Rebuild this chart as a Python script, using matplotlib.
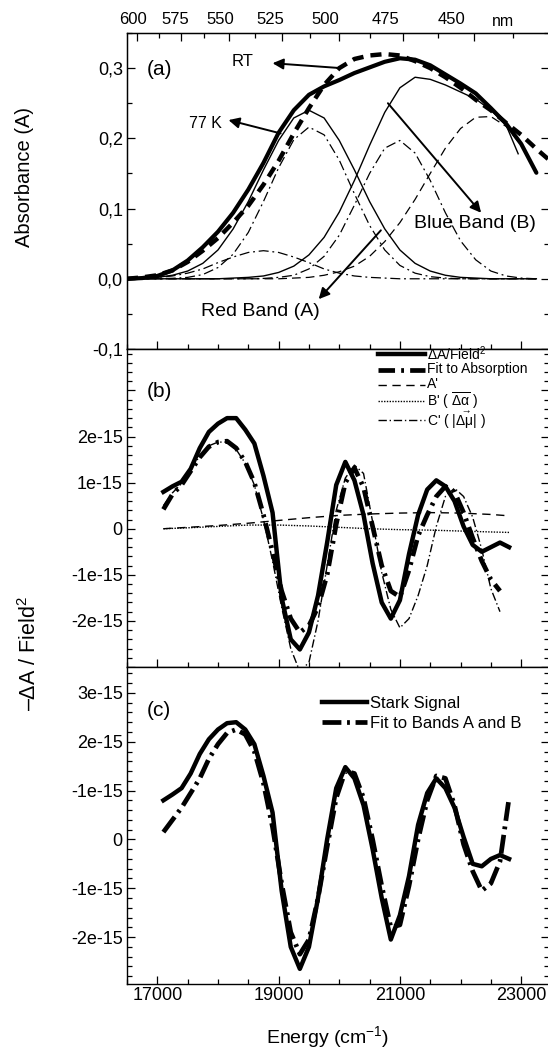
import matplotlib
matplotlib.use('Agg')
import matplotlib.pyplot as plt
from matplotlib.ticker import FixedLocator, MultipleLocator, NullFormatter, FixedFormatter

plt.rcParams['font.family'] = ['Liberation Sans', 'DejaVu Sans']
plt.rcParams['mathtext.fontset'] = 'custom'
plt.rcParams['mathtext.rm'] = 'Liberation Sans'
plt.rcParams['mathtext.it'] = 'Liberation Sans:italic'
plt.rcParams['mathtext.sf'] = 'Liberation Sans'

# ---------------- data: panel (a) absorbance ----------------
energy_a = [16500, 16750, 17000, 17250, 17500, 17750, 18000, 18250, 18500, 18750,
            19000, 19250, 19500, 19750, 20000, 20250, 20500, 20750, 21000, 21250,
            21500, 21750, 22000, 22250, 22500, 22750, 23000, 23250]
abs_77k = [0.000, 0.001, 0.004, 0.012, 0.026, 0.045, 0.067, 0.094, 0.127, 0.165,
           0.208, 0.240, 0.262, 0.274, 0.283, 0.293, 0.301, 0.309, 0.314, 0.312,
           0.304, 0.291, 0.278, 0.264, 0.243, 0.221, 0.192, 0.151]
energy_rt = energy_a + [23450]
abs_rt = [0.000, 0.002, 0.005, 0.012, 0.024, 0.040, 0.058, 0.080, 0.104, 0.134,
          0.168, 0.207, 0.243, 0.276, 0.300, 0.313, 0.318, 0.320, 0.318, 0.310,
          0.300, 0.287, 0.272, 0.255, 0.240, 0.222, 0.205, 0.185, 0.170]
red_band = [0.000, 0.001, 0.002, 0.005, 0.011, 0.022, 0.041, 0.071, 0.110, 0.155,
            0.197, 0.229, 0.240, 0.229, 0.197, 0.155, 0.110, 0.071, 0.041, 0.022,
            0.011, 0.005, 0.002, 0.001, 0.000, 0.000, 0.000, 0.000]
blue_energy = [16500, 18000, 18250, 18500, 18750, 19000, 19250, 19500, 19750, 20000,
               20250, 20500, 20750, 21000, 21250, 21500, 21750, 22000, 22250, 22500,
               22750, 22950]
blue_band = [0.000, 0.000, 0.001, 0.002, 0.004, 0.009, 0.018, 0.034, 0.059, 0.095,
             0.140, 0.190, 0.237, 0.272, 0.287, 0.284, 0.276, 0.266, 0.256, 0.240,
             0.219, 0.178]
rt_red_band = [0.000, 0.000, 0.0002, 0.0007, 0.002, 0.006, 0.016, 0.035, 0.066, 0.110,
               0.158, 0.198, 0.216, 0.205, 0.169, 0.121, 0.076, 0.041, 0.019, 0.008,
               0.003, 0.001, 0.000, 0.000, 0.000, 0.000, 0.000, 0.000]
rt_mid_band = [0.000, 0.000, 0.000, 0.000, 0.000, 0.000, 0.000, 0.000, 0.000, 0.0005,
               0.002, 0.005, 0.014, 0.032, 0.062, 0.105, 0.150, 0.186, 0.197, 0.179,
               0.140, 0.094, 0.054, 0.027, 0.011, 0.004, 0.001, 0.000]
small_band = [0.0002, 0.001, 0.002, 0.004, 0.008, 0.014, 0.023, 0.031, 0.0375, 0.040,
              0.0375, 0.031, 0.023, 0.014, 0.008, 0.004, 0.002, 0.001, 0.000, 0.000,
              0.000, 0.000, 0.000, 0.000, 0.000, 0.000, 0.000, 0.000]
dash_energy = [16500, 18500, 18750, 19000, 19250, 19500, 19750, 20000, 20250, 20500,
               20750, 21000, 21250, 21500, 21750, 22000, 22250, 22500, 22750, 23000,
               23100]
rt_blue_band = [0.000, 0.000, 0.000, 0.000, 0.001, 0.002, 0.005, 0.010, 0.018, 0.032,
                0.053, 0.080, 0.113, 0.150, 0.186, 0.214, 0.230, 0.231, 0.217, 0.190,
                0.176]

# ---------------- data: panel (b) and (c), values in units of 1e-15 ----------------
energy_b = [17100, 17250, 17400, 17550, 17700, 17850, 18000, 18150, 18300, 18450,
            18600, 18750, 18900, 19050, 19200, 19350, 19500, 19650, 19800, 19950,
            20100, 20250, 20400, 20550, 20700, 20850, 21000, 21150, 21300, 21450,
            21600, 21750, 21900, 22050, 22200, 22350, 22500, 22650, 22800]
dA_field = [0.80, 0.92, 1.02, 1.30, 1.75, 2.10, 2.28, 2.40, 2.40, 2.15,
            1.85, 1.15, 0.35, -1.50, -2.40, -2.62, -2.25, -1.45, -0.30, 0.95,
            1.45, 1.05, 0.30, -0.75, -1.60, -1.95, -1.55, -0.55, 0.30, 0.85,
            1.05, 0.92, 0.60, 0.05, -0.35, -0.50, -0.40, -0.30, -0.40]
fit_absorption = [0.42, 0.75, 0.95, 1.25, 1.55, 1.78, 1.88, 1.90, 1.75, 1.45,
                  1.00, 0.30, -0.50, -1.35, -1.95, -2.25, -2.10, -1.70, -1.00, 0.10,
                  1.00, 1.32, 0.90, 0.05, -0.80, -1.35, -1.48, -0.90, -0.15, 0.30,
                  0.70, 0.92, 0.80, 0.35, -0.20, -0.70, -1.10, -1.35]
c_prime = [0.50, 0.78, 0.98, 1.28, 1.58, 1.80, 1.88, 1.88, 1.72, 1.42,
           0.95, 0.20, -0.70, -1.70, -2.60, -3.10, -2.90, -2.00, -0.80, 0.40,
           1.10, 1.38, 1.20, 0.15, -0.95, -1.75, -2.15, -1.95, -1.45, -0.80,
           0.05, 0.70, 0.88, 0.70, 0.25, -0.45, -1.30, -1.80]
energy_ab = [17100, 17500, 18000, 18500, 19000, 19500, 20000, 20500, 21000, 21500,
             22000, 22500, 22800]
a_prime = [0.00, 0.03, 0.07, 0.12, 0.18, 0.24, 0.29, 0.32, 0.34, 0.35, 0.34, 0.31, 0.28]
b_prime = [0.00, 0.02, 0.05, 0.08, 0.08, 0.06, 0.03, 0.00, -0.02, -0.03, -0.05, -0.07, -0.08]

stark_signal = [0.80, 0.92, 1.05, 1.35, 1.75, 2.05, 2.25, 2.38, 2.40, 2.25,
                1.95, 1.30, 0.55, -1.05, -2.20, -2.65, -2.20, -1.20, 0.00, 1.05,
                1.48, 1.25, 0.70, -0.20, -1.20, -2.05, -1.55, -0.75, 0.30, 0.95,
                1.25, 1.05, 0.65, 0.05, -0.50, -0.55, -0.40, -0.32, -0.40]
fit_bands = [0.15, 0.40, 0.65, 0.95, 1.25, 1.65, 1.95, 2.18, 2.25, 2.15,
             1.80, 1.15, 0.25, -0.90, -1.90, -2.35, -2.05, -1.20, -0.15, 0.85,
             1.40, 1.35, 0.85, 0.00, -0.95, -1.80, -1.75, -0.95, 0.00, 0.80,
             1.30, 1.25, 0.70, -0.10, -0.65, -1.05, -0.90, -0.45, 0.85]

# tick labels
x_ticks = [17000, 19000, 21000, 23000]
x_ticklabels = ['17000', '19000', '21000', '23000']
ya_ticks = [-0.1, 0.0, 0.1, 0.2, 0.3]
ya_ticklabels = ['-0,1', '0,0', '0,1', '0,2', '0,3']
yb_ticks = [-3, -2, -1, 0, 1, 2, 3]
yb_ticklabels = ['', '-2e-15', '-1e-15', '0', '1e-15', '2e-15', '']
yc_ticks = [-2, -1, 0, 1, 2, 3]
yc_ticklabels = ['-2e-15', '-1e-15', '0', '-1e-15', '2e-15', '3e-15']
nm_major = [600, 575, 550, 525, 500, 475, 450]
nm_minor = [587.5, 562.5, 537.5, 512.5, 487.5, 462.5, 437.5]

# ---------------- figure ----------------
W, H = 548, 1049
fig = plt.figure(figsize=(W / 100, H / 100), dpi=100)
LEFT, RIGHT = 127, 548.5


def rect(top, bottom):
    return [LEFT / W, 1 - bottom / H, (RIGHT - LEFT) / W, (bottom - top) / H]


axa = fig.add_axes(rect(33, 349))
axb = fig.add_axes(rect(349, 667))
axc = fig.add_axes(rect(667, 984))

for ax in (axa, axb, axc):
    ax.set_xlim(16500, 23450)
    ax.xaxis.set_major_locator(FixedLocator(x_ticks))
    ax.xaxis.set_minor_locator(MultipleLocator(500))
    ax.tick_params(which='both', direction='in', top=False, right=True,
                   labelsize=13, width=0.9, pad=3)
    ax.tick_params(which='major', length=6)
    ax.tick_params(which='minor', length=3.5)
    for s in ax.spines.values():
        s.set_linewidth(1.0)

axa.xaxis.set_major_formatter(NullFormatter())
axb.xaxis.set_major_formatter(NullFormatter())
axc.xaxis.set_major_formatter(FixedFormatter(x_ticklabels))
axc.tick_params(axis='x', pad=2)

# panel (a)
axa.set_ylim(-0.1, 0.35)
axa.yaxis.set_major_locator(FixedLocator(ya_ticks))
axa.yaxis.set_major_formatter(FixedFormatter(ya_ticklabels))
axa.yaxis.set_minor_locator(MultipleLocator(0.05))

dashdot_thin = (0, (8, 3, 1.5, 3))
axa.plot(energy_a, small_band, color='black', lw=0.9, ls=dashdot_thin)
axa.plot(energy_a, rt_red_band, color='black', lw=0.9, ls=dashdot_thin)
axa.plot(energy_a, rt_mid_band, color='black', lw=0.9, ls=dashdot_thin)
axa.plot(dash_energy, rt_blue_band, color='black', lw=0.9, ls=(0, (7, 4)))
axa.plot(energy_a, red_band, color='black', lw=1.0)
axa.plot(blue_energy, blue_band, color='black', lw=1.0)
axa.plot(energy_rt, abs_rt, color='black', lw=3.2, ls=(0, (2.5, 1.6)))
axa.plot(energy_a, abs_77k, color='black', lw=3.0, solid_capstyle='round',
         solid_joinstyle='round')

arrow = dict(arrowstyle='-|>', color='black', lw=1.4, mutation_scale=16,
             shrinkA=0, shrinkB=0)
axa.annotate('', xy=(18900, 0.307), xytext=(20025, 0.300), arrowprops=arrow)
axa.text(18400, 0.309, 'RT', fontsize=12, ha='center', va='center')
axa.annotate('', xy=(18174, 0.226), xytext=(19033, 0.207), arrowprops=arrow)
axa.text(17800, 0.221, '77 K', fontsize=11.5, ha='center', va='center')
axa.annotate('', xy=(22339, 0.094), xytext=(20802, 0.250), arrowprops=arrow)
axa.text(22230, 0.079, 'Blue Band (B)', fontsize=14, ha='center', va='center')
axa.annotate('', xy=(19661, -0.029), xytext=(20686, 0.069), arrowprops=arrow)
axa.text(18694, -0.047, 'Red Band (A)', fontsize=14, ha='center', va='center')
axa.text(0.078, 0.883, '(a)', transform=axa.transAxes, fontsize=15,
         ha='center', va='center')

# top wavelength axis
axt = axa.twiny()
axt.set_xlim(axa.get_xlim())
axt.xaxis.set_major_locator(FixedLocator([1e7 / w for w in nm_major]))
axt.xaxis.set_minor_locator(FixedLocator([1e7 / w for w in nm_minor]))
axt.xaxis.set_major_formatter(NullFormatter())
axt.tick_params(which='both', direction='in', width=0.9)
axt.tick_params(which='major', length=6)
axt.tick_params(which='minor', length=3.5)
top_label_px = [133, 175, 220, 270, 325, 385, 452]
for px, w in zip(top_label_px, nm_major):
    fig.text(px / W, 1 - 20 / H, str(w), fontsize=12, ha='center', va='center')
fig.text(503 / W, 1 - 22 / H, 'nm', fontsize=11.5, ha='center', va='center')

# panel (b)
axb.set_ylim(-3.0, 3.9)
axb.yaxis.set_major_locator(FixedLocator(yb_ticks))
axb.yaxis.set_major_formatter(FixedFormatter(yb_ticklabels))
axb.yaxis.set_minor_locator(MultipleLocator(0.2))
style_dA = dict(color='black', lw=3.2)
style_fit = dict(color='black', lw=3.4, ls=(0, (3.5, 1.3, 0.6, 1.3)))
style_a = dict(color='black', lw=1.0, ls=(0, (6, 4)))
style_b = dict(color='black', lw=1.0, ls=(0, (1, 1)))
style_c = dict(color='black', lw=1.0, ls=(0, (6, 2, 1, 2)))
axb.plot(energy_b, dA_field, **style_dA)
axb.plot(energy_b[:len(fit_absorption)], fit_absorption, **style_fit)
axb.plot(energy_ab, a_prime, **style_a)
axb.plot(energy_ab, b_prime, **style_b)
axb.plot(energy_b[:len(c_prime)], c_prime, **style_c)

# hand-placed legend (b), rows in pixel rows of the figure
legend_b_labels = ['ΔA/Field$^2$', 'Fit to Absorption', "A'",
                   r"B' ( $\overline{\mathrm{\Delta\alpha}}$ )",
                   r"C' ( $|\vec{\mathrm{\Delta\mu}}|$ )"]
legend_b_styles = [style_dA, style_fit, style_a, style_b, style_c]
legend_b_rows = [354, 369.5, 384.5, 401, 420]


def px_to_axes(ax_top, ax_bottom, px, py):
    return (px - LEFT) / (RIGHT - LEFT), (ax_bottom - py) / (ax_bottom - ax_top)


for lab, st, py in zip(legend_b_labels, legend_b_styles, legend_b_rows):
    x0, y0 = px_to_axes(349, 667, 378, py)
    x1, _ = px_to_axes(349, 667, 425, py)
    xt, _ = px_to_axes(349, 667, 427, py)
    axb.plot([x0, x1], [y0, y0], transform=axb.transAxes, clip_on=False, **st)
    axb.text(xt, y0, lab, transform=axb.transAxes, fontsize=10,
             ha='left', va='center')
axb.text(0.078, 0.865, '(b)', transform=axb.transAxes, fontsize=15,
         ha='center', va='center')

# panel (c)
axc.set_ylim(-2.96, 3.53)
axc.yaxis.set_major_locator(FixedLocator(yc_ticks))
axc.yaxis.set_major_formatter(FixedFormatter(yc_ticklabels))
axc.yaxis.set_minor_locator(MultipleLocator(0.2))
axc.plot(energy_b, stark_signal, color='black', lw=3.2, label='Stark Signal')
axc.plot(energy_b, fit_bands, color='black', lw=3.4,
         ls=(0, (4, 1.2, 0.6, 1.2)), label='Fit to Bands A and B')
axc.legend(loc='upper left', bbox_to_anchor=(0.4626, 0.909), frameon=False,
           fontsize=12, handlelength=2.7, handletextpad=0.2, labelspacing=0.3,
           borderpad=0, borderaxespad=0)
axc.text(0.076, 0.864, '(c)', transform=axc.transAxes, fontsize=15,
         ha='center', va='center')

# axis labels
fig.text(24 / W, 1 - 177 / H, 'Absorbance (A)', rotation=90, fontsize=14.5,
         ha='center', va='center')
fig.text(30 / W, 1 - 653 / H, '–ΔA / Field$^2$', rotation=90, fontsize=15.5,
         ha='center', va='center')
fig.text(328 / W, 1 - 1037 / H, 'Energy (cm$^{-1}$)', fontsize=14,
         ha='center', va='center')

fig.savefig('out.png', dpi=100)
